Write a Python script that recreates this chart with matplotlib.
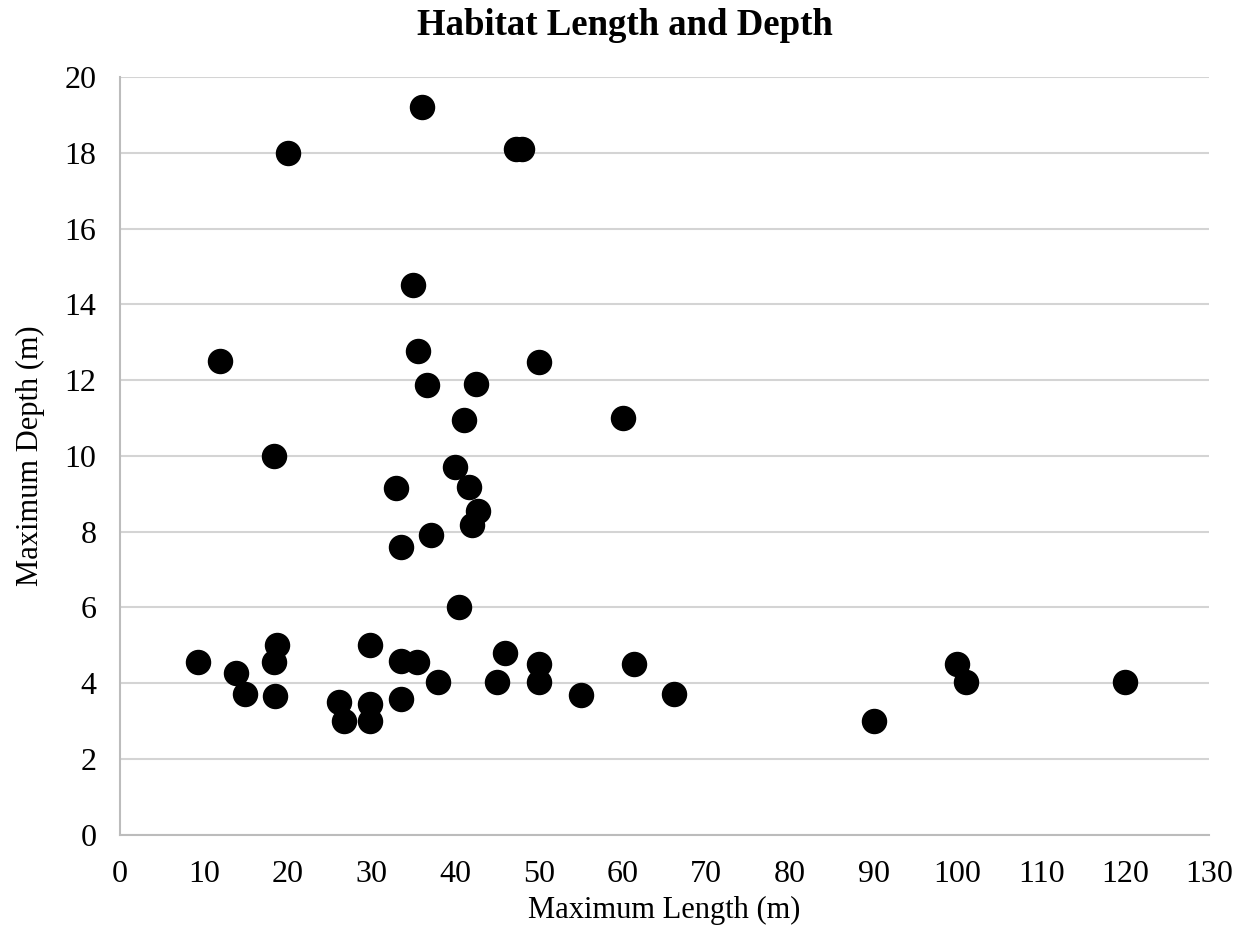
import matplotlib.pyplot as plt

# maximum length (m) and maximum depth (m)
length = [9.3, 13.8, 14.9, 11.9, 18.4, 18.7, 18.4, 18.5, 20.0,
          26.2, 26.7, 29.9, 29.9, 29.9, 33.5, 33.5, 35.5, 38.0,
          33.0, 33.5, 37.1, 35.0, 35.6, 36.6, 36.0, 40.5, 40.0,
          41.1, 41.7, 42.7, 42.0, 42.5, 45.0, 46.0, 47.3, 48.0,
          50.0, 50.0, 50.0, 55.0, 60.0, 61.4, 66.1, 90.0, 99.9,
          101.0, 120.0]
depth = [4.56, 4.28, 3.71, 12.5, 10.0, 5.0, 4.56, 3.65, 18.0,
         3.5, 3.0, 5.0, 3.45, 3.0, 4.58, 3.58, 4.56, 4.02,
         9.14, 7.59, 7.9, 14.52, 12.78, 11.88, 19.2, 6.0, 9.7,
         10.96, 9.17, 8.54, 8.17, 11.91, 4.02, 4.8, 18.1, 18.1,
         12.49, 4.5, 4.02, 3.69, 11.0, 4.5, 3.72, 3.0, 4.5,
         4.02, 4.02]

plt.rcParams['font.family'] = ['Liberation Serif', 'DejaVu Serif']

fig = plt.figure(figsize=(12.5, 9.39), dpi=100)
ax = fig.add_axes([0.096, 0.111, 0.871, 0.807])

ax.scatter(length, depth, s=300, color='black', zorder=3)

ax.set_xlim(0, 130)
ax.set_ylim(0, 20)
ax.set_xticks(range(0, 131, 10))
ax.set_yticks(range(0, 21, 2))
ax.grid(axis='y', color='#d4d4d4', linewidth=1.5)
ax.set_axisbelow(True)
for side in ['top', 'right']:
    ax.spines[side].set_visible(False)
for side in ['left', 'bottom']:
    ax.spines[side].set_color('#bcbcbc')
    ax.spines[side].set_linewidth(1.5)
ax.tick_params(length=0, labelsize=23)
ax.tick_params(axis='x', pad=18)
ax.tick_params(axis='y', pad=17)

ax.set_xlabel('Maximum Length (m)', fontsize=22, labelpad=5)
ax.set_ylabel('Maximum Depth (m)', fontsize=22, labelpad=14)
fig.suptitle('Habitat Length and Depth', fontsize=26.5, fontweight='bold', y=0.991)

fig.savefig('out.png')
